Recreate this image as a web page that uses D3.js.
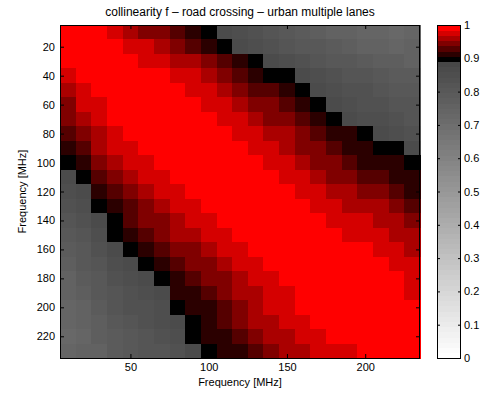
<!DOCTYPE html>
<html>
<head>
<meta charset="utf-8">
<script src="https://cdn.jsdelivr.net/npm/d3@7"></script>
<style>
  html, body { margin: 0; padding: 0; background: #fff; }
  svg { display: block; font-family: "Liberation Sans", Arial, Helvetica, sans-serif; }
</style>
</head>
<body>
<svg id="chart" width="484" height="398"></svg>
<script>
// Frequency bins (MHz), bin centres
const frequencies = [10, 20, 30, 40, 50, 60, 70, 80, 90, 100, 110, 120, 130, 140, 150, 160, 170, 180, 190, 200, 210, 220, 230];

// Collinearity f between frequency bins (row = y frequency, column = x frequency)
const collinearity = [
  [.99,.99,.99,.977,.961,.945,.945,.93,.914,.898,.866,.845,.835,.82,.805,.795,.78,.765,.755,.745,.735,.72,.745],
  [.99,.99,.99,.99,.977,.977,.961,.945,.93,.914,.898,.866,.85,.835,.825,.81,.80,.785,.775,.765,.75,.74,.755],
  [.99,.99,.99,.99,.99,.977,.977,.961,.961,.945,.93,.914,.898,.866,.85,.835,.825,.81,.80,.79,.78,.77,.765],
  [.977,.99,.99,.99,.99,.99,.99,.977,.977,.961,.945,.93,.914,.898,.898,.866,.85,.835,.825,.815,.805,.795,.785],
  [.961,.977,.99,.99,.99,.99,.99,.99,.977,.977,.961,.945,.93,.93,.914,.898,.866,.85,.84,.83,.82,.81,.80],
  [.945,.977,.977,.99,.99,.99,.99,.99,.99,.977,.977,.961,.945,.945,.93,.914,.898,.866,.85,.84,.83,.82,.815],
  [.945,.961,.977,.99,.99,.99,.99,.99,.99,.99,.977,.977,.961,.945,.945,.93,.914,.898,.866,.855,.845,.835,.825],
  [.93,.945,.961,.977,.99,.99,.99,.99,.99,.99,.99,.977,.977,.961,.961,.945,.93,.914,.914,.898,.866,.855,.84],
  [.914,.93,.961,.977,.977,.99,.99,.99,.99,.99,.99,.99,.977,.977,.961,.945,.945,.93,.914,.914,.898,.898,.866],
  [.898,.914,.945,.961,.977,.977,.99,.99,.99,.99,.99,.99,.99,.977,.977,.961,.945,.945,.93,.914,.914,.914,.898],
  [.866,.898,.93,.945,.961,.977,.977,.99,.99,.99,.99,.99,.99,.99,.977,.977,.961,.945,.945,.93,.93,.914,.914],
  [.845,.866,.914,.93,.945,.961,.977,.977,.99,.99,.99,.99,.99,.99,.99,.977,.977,.961,.961,.945,.945,.93,.914],
  [.835,.85,.898,.914,.93,.945,.961,.977,.977,.99,.99,.99,.99,.99,.99,.99,.977,.977,.961,.961,.961,.945,.93],
  [.82,.835,.866,.898,.93,.945,.945,.961,.977,.977,.99,.99,.99,.99,.99,.99,.99,.977,.977,.977,.961,.961,.945],
  [.805,.825,.85,.898,.914,.93,.945,.961,.961,.977,.977,.99,.99,.99,.99,.99,.99,.99,.977,.977,.977,.961,.961],
  [.795,.81,.835,.866,.898,.914,.93,.945,.945,.961,.977,.977,.99,.99,.99,.99,.99,.99,.99,.99,.977,.977,.961],
  [.78,.80,.825,.85,.866,.898,.914,.93,.945,.945,.961,.977,.977,.99,.99,.99,.99,.99,.99,.99,.99,.977,.977],
  [.765,.785,.81,.835,.85,.866,.898,.914,.93,.945,.945,.961,.977,.977,.99,.99,.99,.99,.99,.99,.99,.99,.977],
  [.755,.775,.80,.825,.84,.85,.866,.914,.914,.93,.945,.961,.961,.977,.977,.99,.99,.99,.99,.99,.99,.99,.977],
  [.745,.765,.79,.815,.83,.84,.855,.898,.914,.914,.93,.945,.961,.977,.977,.99,.99,.99,.99,.99,.99,.99,.99],
  [.735,.75,.78,.805,.82,.83,.845,.866,.898,.914,.93,.945,.961,.961,.977,.977,.99,.99,.99,.99,.99,.99,.99],
  [.72,.74,.77,.795,.81,.82,.835,.855,.898,.914,.914,.93,.945,.961,.961,.977,.977,.99,.99,.99,.99,.99,.99],
  [.745,.755,.765,.785,.80,.815,.825,.84,.866,.898,.914,.914,.93,.945,.961,.961,.977,.977,.977,.99,.99,.99,.99]
];

// Axis and colorbar tick labels
const xTicks = [50, 100, 150, 200];
const yTicks = [20, 40, 60, 80, 100, 120, 140, 160, 180, 200, 220];
const cTicks = [0, 0.1, 0.2, 0.3, 0.4, 0.5, 0.6, 0.7, 0.8, 0.9, 1];

const titleText = "collinearity f \u2013 road crossing \u2013 urban multiple lanes";
const axisLabel = "Frequency [MHz]";

// 64-entry colormap: light-to-dark grey up to 0.89, black at 0.9, black-to-red above
const nColors = 64;
const colormap = d3.range(nColors).map(k => {
  if (k <= 56) {
    const g = Math.round(255 * (1 - 0.72 * k / 56));
    return d3.rgb(g, g, g).formatHex();
  }
  if (k === 57) return "#000000";
  return d3.rgb(Math.round(255 * (k - 57) / 6), 0, 0).formatHex();
});
const colorOf = v => colormap[Math.max(0, Math.min(nColors - 1, Math.floor(v * nColors)))];

const svg = d3.select("#chart");
const plot = { left: 60, right: 420, top: 25, bottom: 358 };
const half = 5; // half bin width in MHz

const x = d3.scaleLinear()
  .domain([frequencies[0] - half, frequencies[frequencies.length - 1] + half])
  .range([plot.left, plot.right]);
const y = d3.scaleLinear()
  .domain([frequencies[0] - half, frequencies[frequencies.length - 1] + half])
  .range([plot.top, plot.bottom]);

// Heatmap cells
const cells = [];
collinearity.forEach((row, i) => row.forEach((v, j) => cells.push({ fy: frequencies[i], fx: frequencies[j], v })));

svg.append("g")
  .attr("shape-rendering", "crispEdges")
  .selectAll("rect")
  .data(cells)
  .join("rect")
  .attr("x", d => x(d.fx - half))
  .attr("y", d => y(d.fy - half))
  .attr("width", d => x(d.fx + half) - x(d.fx - half) + 0.5)
  .attr("height", d => y(d.fy + half) - y(d.fy - half) + 0.5)
  .attr("fill", d => colorOf(d.v));

// Axes with inward ticks on all four sides
const tickLen = 4;
const fontSize = 11;
function styleAxis(g) {
  g.select(".domain").remove();
  g.selectAll("line").attr("stroke", "#000").attr("stroke-width", 1);
  g.selectAll("text").attr("font-size", fontSize).attr("fill", "#000")
    .attr("font-family", "'Liberation Sans', Arial, Helvetica, sans-serif");
}

svg.append("g")
  .attr("transform", `translate(0,${plot.bottom})`)
  .call(d3.axisBottom(x).tickValues(xTicks).tickSizeInner(-tickLen).tickSizeOuter(0).tickPadding(5))
  .call(styleAxis);
svg.append("g")
  .attr("transform", `translate(0,${plot.top})`)
  .call(d3.axisTop(x).tickValues(xTicks).tickSizeInner(-tickLen).tickSizeOuter(0).tickFormat(""))
  .call(styleAxis);
svg.append("g")
  .attr("transform", `translate(${plot.left},0)`)
  .call(d3.axisLeft(y).tickValues(yTicks).tickSizeInner(-tickLen).tickSizeOuter(0).tickPadding(5))
  .call(styleAxis);
svg.append("g")
  .attr("transform", `translate(${plot.right},0)`)
  .call(d3.axisRight(y).tickValues(yTicks).tickSizeInner(-tickLen).tickSizeOuter(0).tickFormat(""))
  .call(styleAxis);

// Plot frame
svg.append("rect")
  .attr("x", plot.left + 0.5).attr("y", plot.top + 0.5)
  .attr("width", plot.right - plot.left - 1).attr("height", plot.bottom - plot.top)
  .attr("fill", "none").attr("stroke", "#000").attr("stroke-width", 1);

// Title and axis labels
svg.append("text")
  .attr("x", (plot.left + plot.right) / 2).attr("y", 16)
  .attr("text-anchor", "middle").attr("font-size", 12).attr("fill", "#000")
  .text(titleText);
svg.append("text")
  .attr("x", (plot.left + plot.right) / 2).attr("y", 386)
  .attr("text-anchor", "middle").attr("font-size", fontSize).attr("fill", "#000")
  .text(axisLabel);
svg.append("text")
  .attr("transform", `translate(26,${(plot.top + plot.bottom) / 2}) rotate(-90)`)
  .attr("text-anchor", "middle").attr("font-size", fontSize).attr("fill", "#000")
  .text(axisLabel);

// Colorbar
const cb = { left: 437, right: 461 };
const c = d3.scaleLinear().domain([0, 1]).range([plot.bottom, plot.top]);
svg.append("g")
  .attr("shape-rendering", "crispEdges")
  .selectAll("rect")
  .data(colormap)
  .join("rect")
  .attr("x", cb.left)
  .attr("y", (d, k) => c((k + 1) / nColors))
  .attr("width", cb.right - cb.left)
  .attr("height", (d, k) => c(k / nColors) - c((k + 1) / nColors) + 0.5)
  .attr("fill", d => d);

svg.append("g")
  .attr("transform", `translate(${cb.right},0)`)
  .call(d3.axisRight(c).tickValues(cTicks).tickSizeInner(-3).tickSizeOuter(0).tickPadding(3).tickFormat(d3.format("~g")))
  .call(styleAxis);
svg.append("g")
  .attr("transform", `translate(${cb.left},0)`)
  .call(d3.axisLeft(c).tickValues(cTicks).tickSizeInner(-3).tickSizeOuter(0).tickFormat(""))
  .call(styleAxis);
svg.append("rect")
  .attr("x", cb.left + 0.5).attr("y", plot.top + 0.5)
  .attr("width", cb.right - cb.left - 1).attr("height", plot.bottom - plot.top)
  .attr("fill", "none").attr("stroke", "#000").attr("stroke-width", 1);
</script>
</body>
</html>
